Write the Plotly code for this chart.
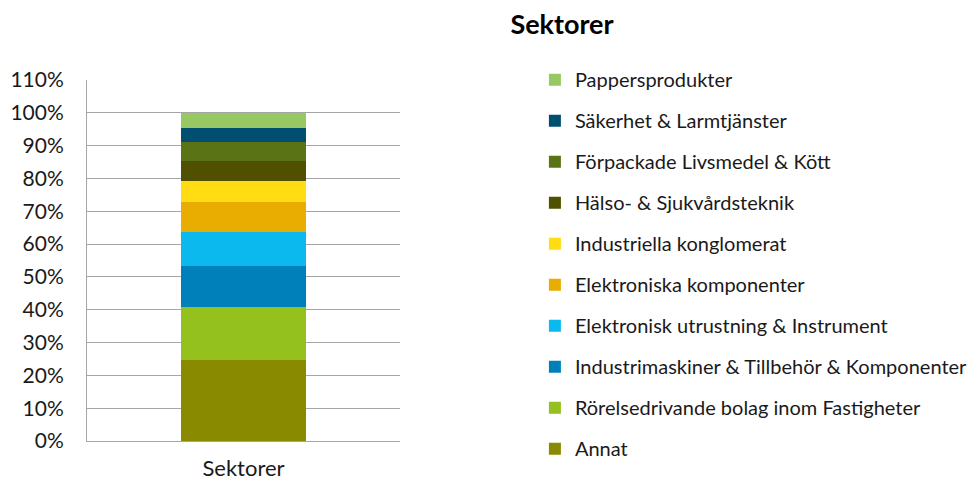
import plotly.graph_objects as go

category = ["Sektorer"]

# bottom to top, share of portfolio (fraction)
sectors = [
    "Annat",
    "Rörelsedrivande bolag inom Fastigheter",
    "Industrimaskiner & Tillbehör & Komponenter",
    "Elektronisk utrustning & Instrument",
    "Elektroniska komponenter",
    "Industriella konglomerat",
    "Hälso- & Sjukvårdsteknik",
    "Förpackade Livsmedel & Kött",
    "Säkerhet & Larmtjänster",
    "Pappersprodukter",
]
shares = [0.248, 0.160, 0.125, 0.104, 0.091, 0.064, 0.061, 0.058, 0.042, 0.047]
colors = [
    "#8A8A00", "#95C11F", "#0080BA", "#0BB9EE", "#E8AD00",
    "#FFDD12", "#4F5000", "#5A7415", "#004F71", "#97C864",
]

FONT = "Lato"
# page body has an 8px margin, so the figure is a bit smaller than the window
W, H = 969, 472

fig = go.Figure()
for i, (name, val, col) in enumerate(zip(sectors, shares, colors)):
    fig.add_trace(
        go.Bar(
            x=category,
            y=[val],
            name=name,
            legendgroup=name,
            legendrank=len(sectors) - i,
            marker=dict(color=col, line=dict(width=0)),
        )
    )

fig.update_layout(
    barmode="stack",
    bargap=0.6,
    width=W,
    height=H,
    margin=dict(l=79, r=577, t=10, b=10, autoexpand=False),
    paper_bgcolor="white",
    plot_bgcolor="white",
    font=dict(family=FONT, size=21, color="#1a1a1a"),
    title=dict(
        text="<b>Sektorer</b>",
        x=554 / W,
        xanchor="center",
        xref="container",
        y=1 - 17 / H,
        yanchor="middle",
        yref="container",
        font=dict(size=27, family=FONT, color="#000000"),
    ),
    legend=dict(
        traceorder="grouped",
        tracegroupgap=12,
        x=1.431,
        y=0.9067,
        xanchor="left",
        yanchor="top",
        font=dict(size=20, family=FONT, color="#1a1a1a"),
        itemwidth=30,
    ),
)

fig.update_yaxes(
    range=[0, 1.1],
    domain=[0.0642, 0.8628],
    dtick=0.1,
    tickformat=".0%",
    showgrid=True,
    gridcolor="#A6A6A6",
    gridwidth=1,
    showline=True,
    linecolor="#A6A6A6",
    linewidth=1,
    ticks="",
    ticklabelstandoff=18,
    zeroline=False,
    automargin=False,
)
fig.update_xaxes(
    showline=True,
    linecolor="#A6A6A6",
    linewidth=1,
    ticks="",
    ticklabelstandoff=8,
    tickfont=dict(size=22),
    automargin=False,
)

fig.write_html("out.html")
